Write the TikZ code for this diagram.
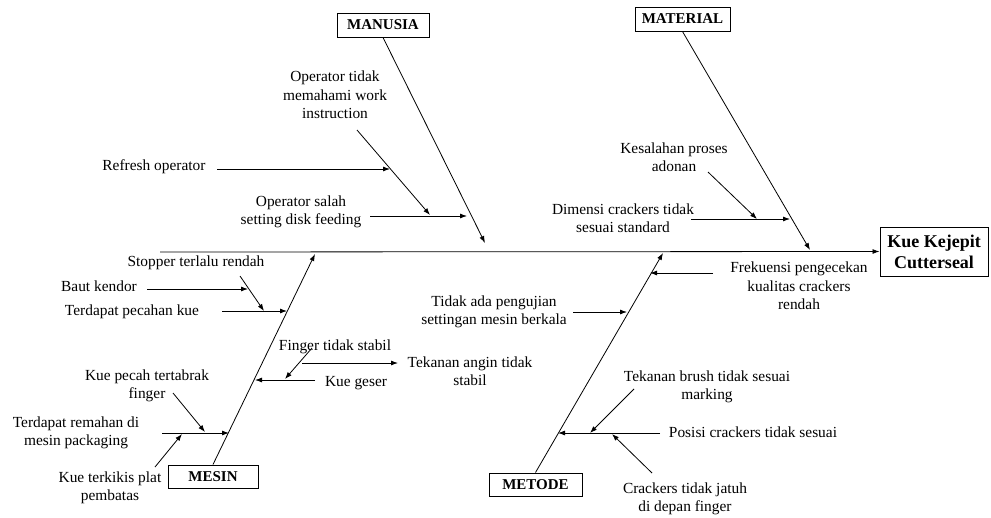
\documentclass[tikz,border=0pt]{standalone}
\usepackage{fontspec}
\setmainfont{Liberation Serif}
\usetikzlibrary{arrows.meta}

\begin{document}
\begin{tikzpicture}[x=1pt,y=-1pt,
  cause/.style={align=center,inner sep=0pt,font=\fontsize{15.4}{18.5}\selectfont},
  category/.style={draw,line width=1pt,minimum width=92pt,minimum height=24pt,inner sep=0pt,font=\fontsize{15}{18}\selectfont\bfseries},
  effect/.style={draw,line width=1pt,minimum width=108pt,minimum height=49pt,align=center,inner sep=0pt,font=\fontsize{18}{21}\selectfont\bfseries},
  arrow/.style={-{Latex[length=7pt,width=5pt]},line width=0.8pt}
]
\useasboundingbox (0,0) rectangle (991,517);

% head and spine
\node[effect] (eff) at (934,251.5) {Kue Kejepit\\Cutterseal};
\coordinate (tail) at (160,252);

% category boxes
\node[category] (man) at (383,25) {MANUSIA};
\node[category,minimum width=95pt] (mat) at (682.5,19) {MATERIAL};
\node[category,minimum width=90pt,minimum height=23pt] (mes) at (213,476.5) {MESIN};
\node[category,minimum width=93pt,minimum height=23pt] (met) at (535.5,484.5) {METODE};
\coordinate (manT) at (485,243);
\coordinate (matT) at (810,250);
\coordinate (mesT) at (315,254);
\coordinate (metT) at (663,253);

% causes: manusia
\node[cause] (m1) at (335,95) {Operator tidak\\memahami work\\instruction};
\node[cause] (m2) at (154,167) {Refresh operator};
\node[cause] (m3) at (301,212) {Operator salah\\setting disk feeding};
\coordinate (m1A) at (357,130); \coordinate (m1B) at (430,215);
\coordinate (m2A) at (217,169); \coordinate (m2B) at (390,169);
\coordinate (m3A) at (370,216); \coordinate (m3B) at (467,216);

% causes: material
\node[cause] (t1) at (674,157) {Kesalahan proses\\adonan};
\node[cause] (t2) at (623,218) {Dimensi crackers tidak\\sesuai standard};
\coordinate (t1A) at (708,172); \coordinate (t1B) at (757,219);
\coordinate (t2A) at (691,219); \coordinate (t2B) at (790,219);

% causes: mesin
\node[cause] (s1) at (196,263) {Stopper terlalu rendah};
\node[cause] (s2) at (99,286) {Baut kendor};
\node[cause] (s3) at (132,312) {Terdapat pecahan kue};
\node[cause] (s4) at (335,347) {Finger tidak stabil};
\node[cause] (s5) at (470,371) {Tekanan angin tidak\\stabil};
\node[cause] (s6) at (356,383) {Kue geser};
\node[cause] (s7) at (147,386) {Kue pecah tertabrak\\finger};
\node[cause] (s8) at (76,433) {Terdapat remahan di\\mesin packaging};
\node[cause] (s9) at (110,488) {Kue terkikis plat\\pembatas};
\coordinate (s1A) at (240,276); \coordinate (s1B) at (264,311);
\coordinate (s2A) at (147,289); \coordinate (s2B) at (248,289);
\coordinate (s3A) at (222,311); \coordinate (s3B) at (287,311);
\coordinate (s4A) at (312,348); \coordinate (s4B) at (285,379);
\coordinate (s5A) at (302,363); \coordinate (s5B) at (398,363);
\coordinate (s6A) at (315,380); \coordinate (s6B) at (255,380);
\coordinate (s7A) at (173,393); \coordinate (s7B) at (205,432);
\coordinate (s8A) at (162,433); \coordinate (s8B) at (229,433);
\coordinate (s9A) at (155,467); \coordinate (s9B) at (182,434);

% causes: metode
\node[cause] (d1) at (799,286) {Frekuensi pengecekan\\kualitas crackers\\rendah};
\node[cause] (d2) at (494,312) {Tidak ada pengujian\\settingan mesin berkala};
\node[cause] (d3) at (707,387) {Tekanan brush tidak sesuai\\marking};
\node[cause] (d4) at (753,432) {Posisi crackers tidak sesuai};
\node[cause] (d5) at (685,499) {Crackers tidak jatuh\\di depan finger};
\coordinate (d1A) at (713,273); \coordinate (d1B) at (650,273);
\coordinate (d2A) at (573,312); \coordinate (d2B) at (627,312);
\coordinate (d3A) at (634,389); \coordinate (d3B) at (590,433);
\coordinate (d4A) at (660,433); \coordinate (d4B) at (558,433);
\coordinate (d5A) at (652,473); \coordinate (d5B) at (612,434);

% connectors
\draw[arrow] (tail) -- (eff.west);
\draw[arrow] (man.south) -- (manT);
\draw[arrow] (mat.south) -- (matT);
\draw[arrow] (mes.north) -- (mesT);
\draw[arrow] (met.north) -- (metT);
\foreach \c in {m1,m2,m3,t1,t2,s1,s2,s3,s4,s5,s6,s7,s8,s9,d1,d2,d3,d4,d5} {
  \draw[arrow] (\c A) -- (\c B);
}
\end{tikzpicture}
\end{document}
